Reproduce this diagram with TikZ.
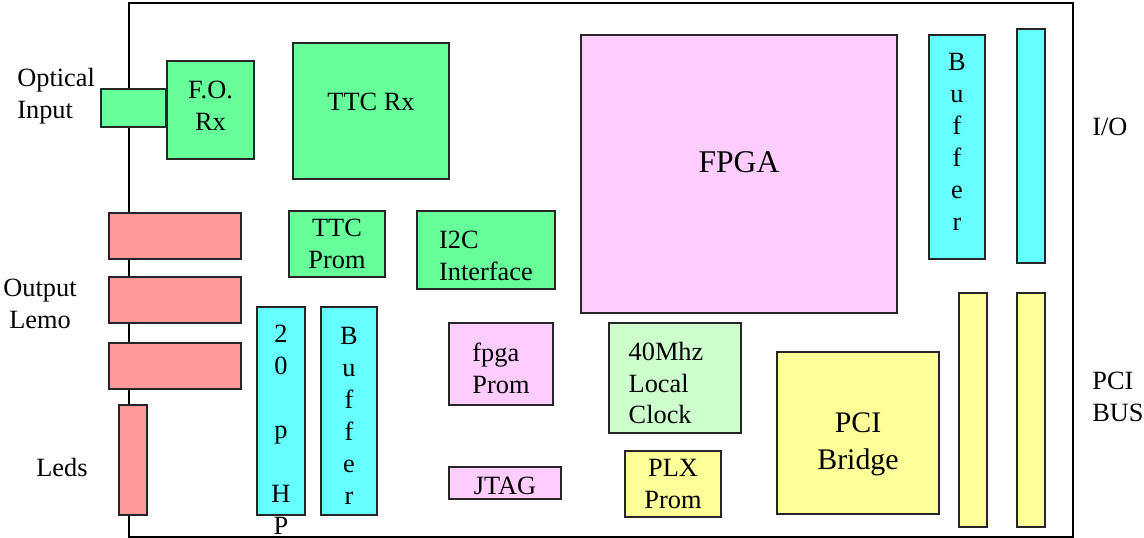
\documentclass[tikz,border=0pt]{standalone}
\usepackage{fontspec}
\setmainfont{Liberation Serif}
\usepackage{tikz}
\usepackage{xcolor}
\usetikzlibrary{positioning}

\newlength\pxu
\setlength\pxu{0.02cm}

\definecolor{rxgreen}{HTML}{66FF99}
\definecolor{lemored}{HTML}{FF9999}
\definecolor{bufcyan}{HTML}{66FFFF}
\definecolor{chippink}{HTML}{FFCCFF}
\definecolor{clkgreen}{HTML}{CCFFCC}
\definecolor{pciyellow}{HTML}{FFFF99}

\tikzset{
  blk/.style={draw=black!85, line width=1.1pt, inner sep=0pt, align=center},
  sz/.style 2 args={minimum width=#1\pxu, minimum height=#2\pxu},
  lbl/.style={inner sep=0pt},
}

\begin{document}
\begin{tikzpicture}[x=\pxu, y=-\pxu, font=\fontsize{15}{18.2}\selectfont]
\useasboundingbox (0,0) rectangle (1144,538);
% board
\node[draw, line width=1.1pt, sz={944}{534}] (board) at (601,270) {};
% left side connectors
\node[blk, fill=rxgreen, sz={65}{38}] (optin) at (133.5,108) {};
\node[blk, fill=rxgreen, sz={87}{98}] (forx) at (210.5,110) {};
\node[lbl, align=center] (forxtext) at ([yshift=4\pxu]forx.center) {F.O.\\Rx};
\node[blk, fill=lemored, sz={132}{46}] (lemoa) at (175,236) {};
\node[blk, fill=lemored, sz={132}{46}] (lemob) at (175,300) {};
\node[blk, fill=lemored, sz={132}{46}] (lemoc) at (175,366) {};
\node[blk, fill=lemored, sz={28}{110}] (leds) at (133,460) {};
% ttc part
\node[blk, fill=rxgreen, sz={156}{136}] (ttcrx) at (371,111) {};
\node[lbl] (ttcrxtext) at ([yshift=9\pxu]ttcrx.center) {TTC Rx};
\node[blk, fill=rxgreen, sz={96}{66}] (ttcprom) at (337,244) {TTC\\Prom};
\node[blk, fill=rxgreen, sz={138}{78}] (i2c) at (486,250) {};
\node[lbl, align=left] (i2ctext) at ([yshift=-6\pxu]i2c.center) {I2C\\Interface};
\node[blk, fill=bufcyan, sz={48}{208}] (hp) at (281,411) {};
\node[lbl, align=center, below=19\pxu of hp.north] (hptext) {2\\0\\~\\p\\~\\H\\P};
\node[blk, fill=bufcyan, sz={56}{208}] (bufhp) at (349,411) {};
\node[lbl, align=center] (bufhptext) at ([yshift=-5\pxu]bufhp.center) {B\\u\\f\\f\\e\\r};
\node[blk, fill=chippink, sz={104}{82}] (fprom) at (501,364) {};
\node[lbl, align=left] (fpromtext) at ([yshift=-4\pxu]fprom.center) {fpga\\Prom};
\node[blk, fill=chippink, sz={112}{32}] (jtag) at (505,483) {};
\node[lbl] (jtagtext) at ([yshift=-3\pxu]jtag.center) {JTAG};
% fpga and pci part
\node[blk, fill=chippink, sz={316}{278}] (fpga) at (739,174) {};
\node[lbl, font=\fontsize{18}{21}\selectfont] (fpgatext) at ([yshift=12\pxu]fpga.center) {FPGA};
\node[blk, fill=clkgreen, sz={132}{110}] (clk) at (675,378) {};
\node[lbl, align=left] (clktext) at ([xshift=-9\pxu, yshift=-5\pxu]clk.center) {40Mhz\\Local\\Clock};
\node[blk, fill=pciyellow, sz={96}{66}] (plx) at (673,484) {PLX\\Prom};
\node[blk, fill=pciyellow, sz={162}{162}] (bridge) at (858,433) {};
\node[lbl, align=center, font=\fontsize{17}{21}\selectfont] (bridgetext) at ([yshift=-11\pxu]bridge.center) {PCI\\Bridge};
\node[blk, fill=bufcyan, sz={56}{224}] (bufio) at (957,147) {};
\node[lbl, align=center] (bufiotext) at ([yshift=5\pxu]bufio.center) {B\\u\\f\\f\\e\\r};
\node[blk, fill=bufcyan, sz={28}{234}] (io) at (1031,146) {};
\node[blk, fill=pciyellow, sz={28}{234}] (pcia) at (973,410) {};
\node[blk, fill=pciyellow, sz={28}{234}] (pcib) at (1031,410) {};
% outside labels
\node[lbl, anchor=west, align=left] (optlbl) at (17,96) {Optical\\Input};
\node[lbl, align=center] (lemolbl) at (40,304) {Output\\Lemo};
\node[lbl] (ledlbl) at (62,467) {Leds};
\node[lbl, anchor=west] (iolbl) at (1092,127) {I/O};
\node[lbl, anchor=west, align=left] (pcilbl) at (1092,397) {PCI\\BUS};
\end{tikzpicture}
\end{document}
